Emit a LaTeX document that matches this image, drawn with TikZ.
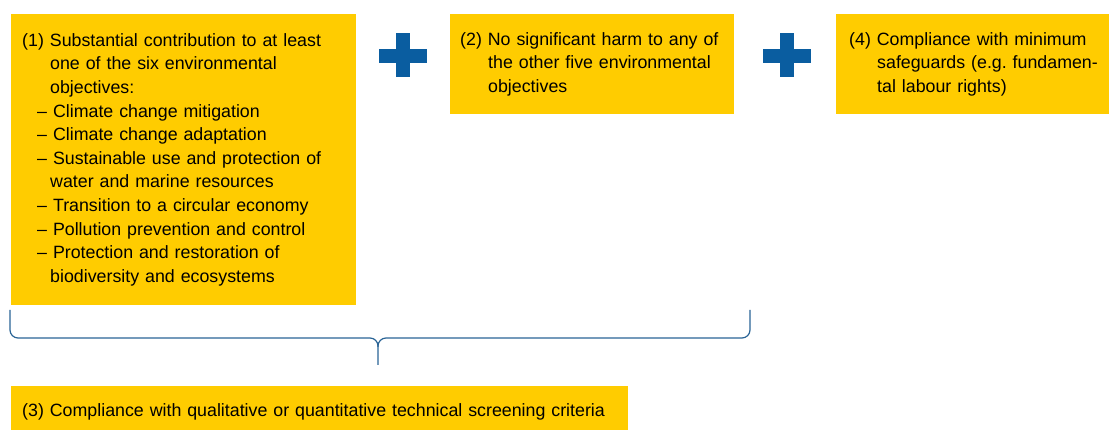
\documentclass[tikz,border=0pt]{standalone}
\usepackage{fontspec}
\setmainfont{Liberation Sans}
\usetikzlibrary{positioning}
\definecolor{crityellow}{HTML}{FFCC00}
\definecolor{critblue}{HTML}{0A5DA0}
\definecolor{bracelineblue}{HTML}{2A6496}
\newcommand{\hangin}{\hspace*{28pt}}
\newcommand{\dashitem}{\hspace*{15pt}--\ }
\begin{document}
\begin{tikzpicture}[x=1pt, y=1pt,
    critbox/.style={fill=crityellow, anchor=north west, align=left, inner ysep=0pt,
        font=\fontsize{17.8}{23.6}\selectfont},
    plusbar/.style={fill=critblue},
    bracepath/.style={draw=bracelineblue, line width=1.2pt, rounded corners=8pt}]
    \useasboundingbox (0,0) rectangle (1109,430);

    % Criteria boxes
    \node[critbox, inner xsep=11pt, text width=323pt, minimum height=291pt] (C1) at (11,416)
        {(1) Substantial contribution to at least\\
         \hangin one of the six environmental\\
         \hangin objectives:\\
         \dashitem Climate change mitigation\\
         \dashitem Climate change adaptation\\
         \dashitem Sustainable use and protection of\\
         \hangin water and marine resources\\
         \dashitem Transition to a circular economy\\
         \dashitem Pollution prevention and control\\
         \dashitem Protection and restoration of\\
         \hangin biodiversity and ecosystems};
    \node[critbox, inner xsep=10pt, text width=264pt, minimum height=100pt] (C2) at (450,416)
        {(2) No significant harm to any of\\
         \hangin the other five environmental\\
         \hangin objectives};
    \node[critbox, inner xsep=13pt, text width=260pt, minimum height=100pt] (C4) at (836,416)
        {(4) Compliance with minimum\\
         \hangin safeguards (e.g.\ fundamen-\\
         \hangin tal labour rights)};
    \node[critbox, inner xsep=11pt, text width=595pt, minimum height=52pt] (C3) at (11,44)
        {(3) Compliance with qualitative or quantitative technical screening criteria};

    % Plus signs
    \foreach \px in {403,787} {
        \fill[plusbar] (\px-24,367) rectangle (\px+24,381);
        \fill[plusbar] (\px-7,353) rectangle (\px+7,397);
    }

    % Brace over (1) and (2)
    \draw[bracepath] (10,120) -- (10,92) -- (378,92) -- (378,65);
    \draw[bracepath] (378,83) -- (378,92) -- (750,92) -- (750,120);
\end{tikzpicture}
\end{document}
